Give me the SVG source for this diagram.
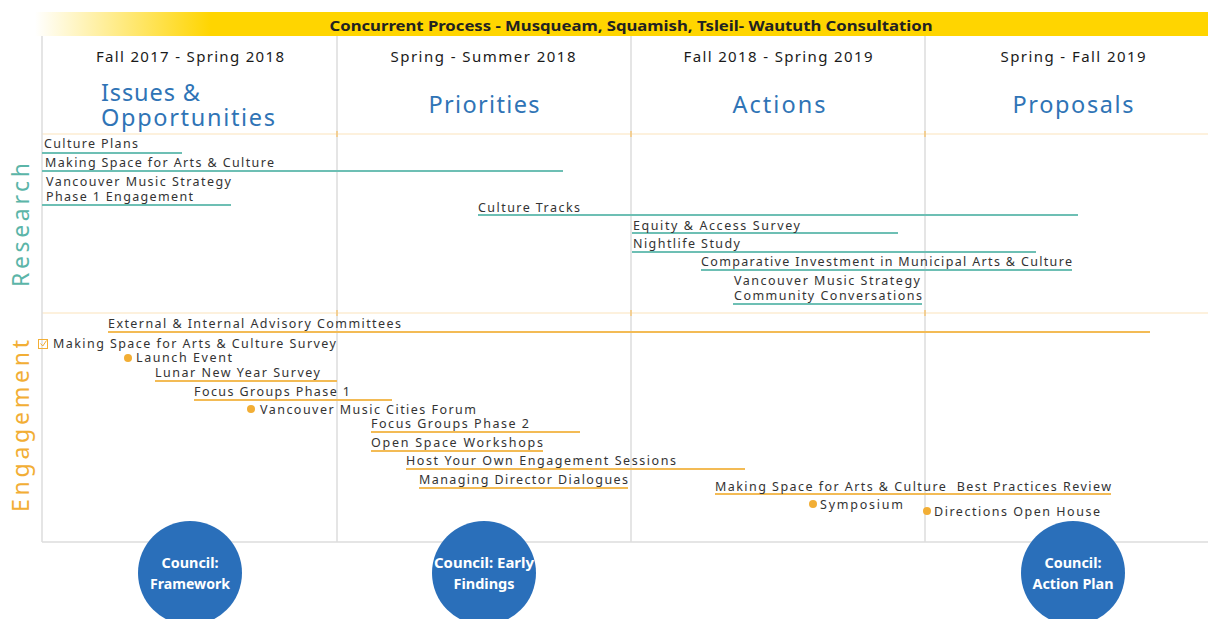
<svg xmlns="http://www.w3.org/2000/svg" width="1208" height="619" viewBox="0 0 1208 619">
<defs>
<linearGradient id="bannerGrad" x1="35" y1="0" x2="1208" y2="0" gradientUnits="userSpaceOnUse">
<stop offset="0" stop-color="#ffffff"/>
<stop offset="0.15" stop-color="#ffd500"/>
<stop offset="1" stop-color="#ffd500"/>
</linearGradient>
<style>
text{font-family:"Noto Sans","Liberation Sans",sans-serif;}
.item{font-size:12.5px;fill:#333333;}
.date{font-size:15px;fill:#1a1a1a;}
.title{font-size:23.5px;fill:#2f74b6;}
.banner{font-size:15px;font-weight:bold;fill:#222222;}
.circ{font-size:14px;font-weight:bold;fill:#ffffff;}
.vgrid{stroke:#dcdcdc;stroke-width:1.5;}
.hband{stroke:#fbe3bb;stroke-width:1.2;}
.rbar{stroke:#6dbfb4;stroke-width:1.8;}
.ebar{stroke:#f3bb55;stroke-width:1.8;}
.dot{fill:#f2ae35;}
.council{fill:#2a6fba;}
</style>
</defs>
<rect width="1208" height="619" fill="#ffffff"/>

<g id="banner">
<rect x="35" y="12" width="1173" height="24" fill="url(#bannerGrad)"/>
<text class="banner" x="631" y="31" text-anchor="middle" textLength="603" lengthAdjust="spacingAndGlyphs">Concurrent Process - Musqueam, Squamish, Tsleil- Waututh Consultation</text>
</g>

<g id="grid">
<line class="hband" x1="42" y1="134" x2="1208" y2="134"/>
<line class="hband" x1="42" y1="313" x2="1208" y2="313"/>
<line class="vgrid" x1="42" y1="36" x2="42" y2="542"/>
<line class="vgrid" x1="337" y1="36" x2="337" y2="542"/>
<line class="vgrid" x1="631" y1="36" x2="631" y2="542"/>
<line class="vgrid" x1="925" y1="36" x2="925" y2="542"/>
<line class="vgrid" x1="42" y1="542" x2="1208" y2="542"/>
<g stroke="#f6c77a" stroke-width="1.5">
<line x1="337" y1="131" x2="337" y2="137"/><line x1="631" y1="131" x2="631" y2="137"/><line x1="925" y1="131" x2="925" y2="137"/>
<line x1="337" y1="310" x2="337" y2="316"/><line x1="631" y1="310" x2="631" y2="316"/><line x1="925" y1="310" x2="925" y2="316"/>
</g>
</g>

<g id="headers">
<text class="date" x="190" y="62" text-anchor="middle" textLength="188" lengthAdjust="spacing">Fall 2017 - Spring 2018</text>
<text class="date" x="483" y="62" text-anchor="middle" textLength="185" lengthAdjust="spacing">Spring - Summer 2018</text>
<text class="date" x="778" y="62" text-anchor="middle" textLength="189" lengthAdjust="spacing">Fall 2018 - Spring 2019</text>
<text class="date" x="1073" y="62" text-anchor="middle" textLength="145" lengthAdjust="spacing">Spring - Fall 2019</text>
<text class="title" x="101" y="101" textLength="99" lengthAdjust="spacing">Issues &amp;</text>
<text class="title" x="101" y="126" textLength="174" lengthAdjust="spacing">Opportunities</text>
<text class="title" x="484" y="113" text-anchor="middle" textLength="111" lengthAdjust="spacing">Priorities</text>
<text class="title" x="779" y="113" text-anchor="middle" textLength="93" lengthAdjust="spacing">Actions</text>
<text class="title" x="1073" y="113" text-anchor="middle" textLength="121" lengthAdjust="spacing">Proposals</text>
</g>

<g id="lane-labels">
<text x="0" y="0" transform="translate(29,225) rotate(-90)" text-anchor="middle" font-size="23" fill="#5bb5a8" textLength="124" lengthAdjust="spacing">Research</text>
<text x="0" y="0" transform="translate(29,426) rotate(-90)" text-anchor="middle" font-size="23" fill="#f2ae35" textLength="172" lengthAdjust="spacing">Engagement</text>
</g>

<g id="connectors">
<line class="rbar" x1="42" y1="153" x2="182" y2="153"/>
<line class="rbar" x1="42" y1="171" x2="563" y2="171"/>
<line class="rbar" x1="42" y1="205" x2="231" y2="205"/>
<line class="rbar" x1="478" y1="215" x2="1078" y2="215"/>
<line class="rbar" x1="632" y1="233" x2="898" y2="233"/>
<line class="rbar" x1="632" y1="252" x2="1036" y2="252"/>
<line class="rbar" x1="701" y1="270" x2="1072" y2="270"/>
<line class="rbar" x1="733" y1="304" x2="922" y2="304"/>
<line class="ebar" x1="108" y1="332" x2="1150" y2="332"/>
<line class="ebar" x1="155" y1="381" x2="337" y2="381"/>
<line class="ebar" x1="194" y1="400" x2="392" y2="400"/>
<line class="ebar" x1="371" y1="432" x2="580" y2="432"/>
<line class="ebar" x1="371" y1="451" x2="543" y2="451"/>
<line class="ebar" x1="406" y1="469" x2="745" y2="469"/>
<line class="ebar" x1="419" y1="488" x2="628" y2="488"/>
<line class="ebar" x1="715" y1="494" x2="1111" y2="494"/>
</g>

<g id="research-items">
<g id="r-culture-plans"><text class="item" x="44" y="148" textLength="94" lengthAdjust="spacing">Culture Plans</text></g>
<g id="r-making-space"><text class="item" x="45" y="167" textLength="229" lengthAdjust="spacing">Making Space for Arts &amp; Culture</text></g>
<g id="r-vms-phase1"><text class="item" x="46" y="186" textLength="185" lengthAdjust="spacing">Vancouver Music Strategy</text><text class="item" x="46" y="201" textLength="147" lengthAdjust="spacing">Phase 1 Engagement</text></g>
<g id="r-culture-tracks"><text class="item" x="478" y="212" textLength="102" lengthAdjust="spacing">Culture Tracks</text></g>
<g id="r-equity"><text class="item" x="633" y="230" textLength="167" lengthAdjust="spacing">Equity &amp; Access Survey</text></g>
<g id="r-nightlife"><text class="item" x="633" y="248" textLength="107" lengthAdjust="spacing">Nightlife Study</text></g>
<g id="r-comparative"><text class="item" x="701" y="266" textLength="371" lengthAdjust="spacing">Comparative Investment in Municipal Arts &amp; Culture</text></g>
<g id="r-vms-community"><text class="item" x="734" y="285" textLength="186" lengthAdjust="spacing">Vancouver Music Strategy</text><text class="item" x="734" y="300" textLength="188" lengthAdjust="spacing">Community Conversations</text></g>
</g>

<g id="engagement-items">
<g id="e-advisory"><text class="item" x="108" y="328" textLength="293" lengthAdjust="spacing">External &amp; Internal Advisory Committees</text></g>
<g id="e-survey">
<rect x="38.5" y="339.5" width="9" height="9" fill="none" stroke="#f2ae35" stroke-width="1"/>
<path d="M40.5 343.5 L42.8 346 L46.5 340.5" fill="none" stroke="#f2ae35" stroke-width="1"/>
<text class="item" x="53" y="348" textLength="283" lengthAdjust="spacing">Making Space for Arts &amp; Culture Survey</text></g>
<g id="e-launch"><circle class="dot" cx="128" cy="358" r="4"/><text class="item" x="136" y="362" textLength="96" lengthAdjust="spacing">Launch Event</text></g>
<g id="e-lunar"><text class="item" x="155" y="377" textLength="165" lengthAdjust="spacing">Lunar New Year Survey</text></g>
<g id="e-focus1"><text class="item" x="194" y="396" textLength="156" lengthAdjust="spacing">Focus Groups Phase 1</text></g>
<g id="e-forum"><circle class="dot" cx="251" cy="409" r="4"/><text class="item" x="260" y="414" textLength="216" lengthAdjust="spacing">Vancouver Music Cities Forum</text></g>
<g id="e-focus2"><text class="item" x="371" y="428" textLength="158" lengthAdjust="spacing">Focus Groups Phase 2</text></g>
<g id="e-openspace"><text class="item" x="371" y="447" textLength="172" lengthAdjust="spacing">Open Space Workshops</text></g>
<g id="e-host"><text class="item" x="406" y="465" textLength="270" lengthAdjust="spacing">Host Your Own Engagement Sessions</text></g>
<g id="e-managing"><text class="item" x="419" y="484" textLength="209" lengthAdjust="spacing">Managing Director Dialogues</text></g>
<g id="e-bestpractices"><text class="item" x="715" y="491" textLength="396" lengthAdjust="spacing" xml:space="preserve">Making Space for Arts &amp; Culture  Best Practices Review</text></g>
<g id="e-symposium"><circle class="dot" cx="813" cy="504" r="4"/><text class="item" x="820" y="509" textLength="83" lengthAdjust="spacing">Symposium</text></g>
<g id="e-openhouse"><circle class="dot" cx="927" cy="511" r="4"/><text class="item" x="934" y="516" textLength="166" lengthAdjust="spacing">Directions Open House</text></g>
</g>

<g id="council-framework"><circle class="council" cx="190" cy="573" r="52"/><text class="circ" x="190" y="568" text-anchor="middle" textLength="57" lengthAdjust="spacingAndGlyphs">Council:</text><text class="circ" x="190" y="589" text-anchor="middle" textLength="80" lengthAdjust="spacingAndGlyphs">Framework</text></g>
<g id="council-early"><circle class="council" cx="484" cy="573" r="52"/><text class="circ" x="484" y="568" text-anchor="middle" textLength="100" lengthAdjust="spacingAndGlyphs">Council: Early</text><text class="circ" x="484" y="589" text-anchor="middle" textLength="61" lengthAdjust="spacingAndGlyphs">Findings</text></g>
<g id="council-action"><circle class="council" cx="1073" cy="573" r="52"/><text class="circ" x="1073" y="568" text-anchor="middle" textLength="57" lengthAdjust="spacingAndGlyphs">Council:</text><text class="circ" x="1073" y="589" text-anchor="middle" textLength="81" lengthAdjust="spacingAndGlyphs">Action Plan</text></g>
</svg>
